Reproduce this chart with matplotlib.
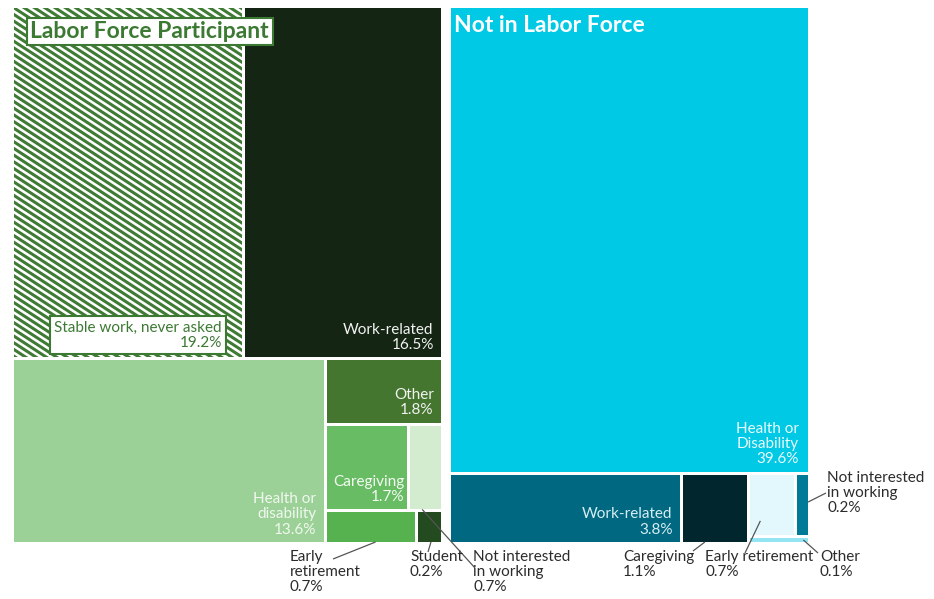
import matplotlib
matplotlib.use("Agg")
import numpy as np
import matplotlib.pyplot as plt
from matplotlib.patches import Rectangle

plt.rcParams['font.family'] = ['Lato', 'DejaVu Sans']

# Labor force participants: reasons for leaving / not returning
labor_labels = ["Stable work, never asked", "Work-related", "Health or disability", "Other",
                "Caregiving", "Not interested in working", "Early retirement", "Student"]
labor_values = [19.2, 16.5, 13.6, 1.8, 1.7, 0.7, 0.7, 0.2]
labor_colors = ["#3f7b35", "#142514", "#9bd197", "#45762f", "#67bc64", "#d3ebcf", "#56b24f", "#244a1f"]

# Not in labor force
nilf_labels = ["Health or Disability", "Work-related", "Caregiving", "Early retirement",
               "Not interested in working", "Other"]
nilf_values = [39.6, 3.8, 1.1, 0.7, 0.2, 0.1]
nilf_colors = ["#00c9e5", "#006880", "#02262e", "#e3f8fd", "#007b97", "#93e5f4"]

GREEN = "#3c7a33"
DARK = "#2b2b2b"


def split(rect, weights, across):
    # slice a rect into pieces proportional to weights, side by side (across) or stacked
    x, y, w, h = rect
    tot = sum(weights)
    out, pos = [], 0.0
    for v in weights:
        f = v / tot
        if across:
            out.append((x + pos * w, y, f * w, h))
        else:
            out.append((x, y + pos * h, w, f * h))
        pos += f
    return out


# overall area in pixels (y grows downward)
x0, y0, x1, y1, gap = 12.5, 6.5, 809.5, 543.5, 7
avail = (x1 - x0) - gap
lw_ = avail * sum(labor_values) / (sum(labor_values) + sum(nilf_values))
left = (x0, y0, lw_, y1 - y0)
right = (x0 + lw_ + gap, y0, avail - lw_, y1 - y0)

v = labor_values
top, bottom = split(left, [v[0] + v[1], sum(v[2:])], False)
r_stable, r_work = split(top, [v[0], v[1]], True)
r_health, col = split(bottom, [v[2], sum(v[3:])], True)
r_other, rest = split(col, [v[3], sum(v[4:])], False)
row1, row2 = split(rest, [v[4] + v[5], v[6] + v[7]], False)
r_care, r_notint = split(row1, [v[4], v[5]], True)
r_early, r_student = split(row2, [v[6], v[7]], True)
labor_rects = [r_stable, r_work, r_health, r_other, r_care, r_notint, r_early, r_student]

n = nilf_values
n_top, n_bot = split(right, [n[0], sum(n[1:])], False)
n_work, n_care, n_col = split(n_bot, [n[1], n[2], sum(n[3:])], True)
n_upper, n_other = split(n_col, [n[3] + n[4], n[5]], False)
n_early, n_notint = split(n_upper, [n[3], n[4]], True)
nilf_rects = [n_top, n_work, n_care, n_early, n_notint, n_other]

fig = plt.figure(figsize=(9.34, 5.99), dpi=100)
ax = fig.add_axes([0, 0, 1, 1])
ax.set_xlim(0, 934)
ax.set_ylim(599, 0)
ax.axis('off')

pad = 1.5
for i, (r, c) in enumerate(zip(labor_rects + nilf_rects, labor_colors + nilf_colors)):
    x, y, w, h = r
    p = Rectangle((x + pad, y + pad), w - 2 * pad, h - 2 * pad, facecolor=c, edgecolor="none", lw=0)
    ax.add_patch(p)
    if i == 0:
        # white diagonal stripes over the "never asked" cell
        slope, step = 0.65, 6.7
        xs = np.array([x, x + w])
        for c0 in np.arange(y - slope * w, y + h + step, step):
            ln, = ax.plot(xs, c0 + slope * (xs - x), color="white", lw=1.85)
            ln.set_clip_path(p)


def inside(r, text, color, fs=11, dx=9, dy=7):
    x, y, w, h = r
    ax.text(x + w - dx, y + h - dy, text, ha="right", va="bottom", color=color,
            fontsize=fs, linespacing=1.1)


inside(r_work, "Work-related\n16.5%", "#f2f2f2")
inside(r_health, "Health or\ndisability\n13.6%", "#f1f8ef")
inside(r_other, "Other\n1.8%", "#f2f2f2")
inside(r_care, "Caregiving\n1.7%", "#f4fbf3", dx=4)
inside(n_top, "Health or\nDisability\n39.6%", "#e9fbfe", dx=11, dy=8)
inside(n_work, "Work-related\n3.8%", "#d6eef3")

# boxed labels on the striped cell
ax.text(x0 + 18, y0 + 25, "Labor Force Participant", ha="left", va="center",
        fontsize=16.5, fontweight="bold", color=GREEN,
        bbox=dict(boxstyle="square,pad=0.15", facecolor="white", edgecolor=GREEN, lw=1.5))
sx, sy, sw, sh = r_stable
ax.text(sx + sw - 22, sy + sh - 9, "Stable work, never asked\n19.2%", ha="right", va="bottom",
        fontsize=11, color=GREEN, linespacing=1.1,
        bbox=dict(boxstyle="square,pad=0.3", facecolor="white", edgecolor=GREEN, lw=1.5))
tx, ty, tw, th = n_top
ax.text(tx + 4, ty + 19, "Not in Labor Force", ha="left", va="center",
        fontsize=16.5, fontweight="bold", color="white")


def callout(r, where, tx, ty, text, lx, ly):
    # gray leader from a point on the cell to the label
    x, y, w, h = r
    if where == "bottom":
        px, py = x + w * 0.55, y + h - pad
    elif where == "right":
        px, py = x + w - pad, y + h * 0.45
    else:
        px, py = where
    ax.plot([px, lx], [py, ly], color="#555555", lw=0.9, solid_capstyle="butt")
    ax.text(tx, ty, text, ha="left", va="top", color=DARK, fontsize=11, linespacing=1.1)


callout(r_early, "bottom", 290, 550, "Early\nretirement\n0.7%", 333, 559)
callout(r_student, "bottom", 410, 550, "Student\n0.2%", 428, 552)
callout(r_notint, (r_notint[0] + r_notint[2] * 0.4, r_notint[1] + r_notint[3] - pad),
        473, 550, "Not interested\nin working\n0.7%", 475, 568)
callout(n_care, (n_care[0] + n_care[2] * 0.35, n_care[1] + n_care[3] - pad),
        623, 550, "Caregiving\n1.1%", 693, 551)
callout(n_early, (n_early[0] + n_early[2] * 0.25, n_early[1] + n_early[3] * 0.75),
        705, 550, "Early retirement\n0.7%", 745, 553)
callout(n_notint, "right", 827, 471, "Not interested\nin working\n0.2%", 826, 493)
callout(n_other, (n_other[0] + n_other[2] * 0.9, n_other[1] + n_other[3] * 0.5),
        820, 550, "Other\n0.1%", 818, 553)

fig.savefig("out.png", dpi=100)
